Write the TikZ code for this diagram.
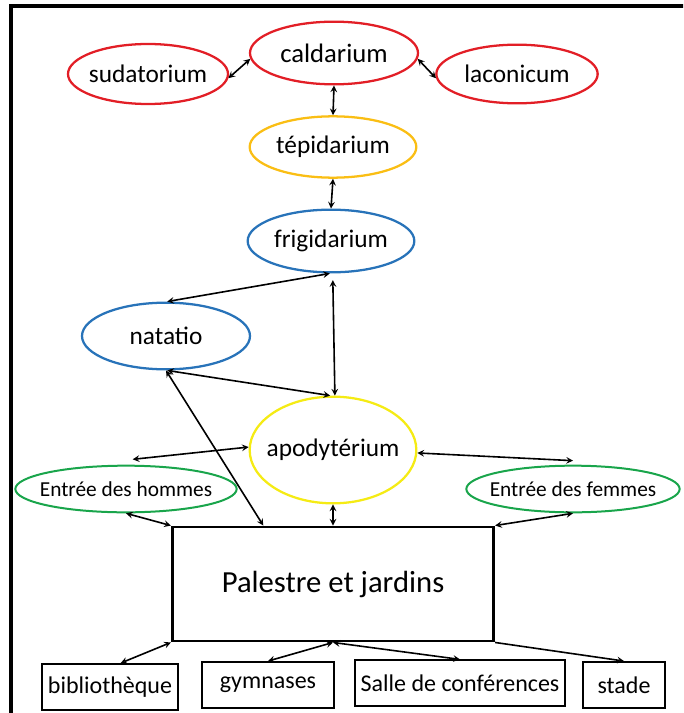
\documentclass[tikz,border=0pt]{standalone}
\usepackage{fontspec}
\setmainfont{Carlito}
\usepackage{xcolor}
\usetikzlibrary{arrows,positioning,shapes,calc}

\definecolor{hotred}{RGB}{226,30,38}
\definecolor{warmorange}{RGB}{250,190,20}
\definecolor{coldblue}{RGB}{40,115,185}
\definecolor{roomyellow}{RGB}{245,235,20}
\definecolor{doorgreen}{RGB}{25,165,75}

\begin{document}
\begin{tikzpicture}[
    x=0.75pt, y=-0.75pt,
    room/.style={ellipse, draw, line width=1.7pt, inner sep=-14pt},
    hot/.style={room, draw=hotred},
    annex/.style={rectangle, draw, line width=1.4pt, inner sep=0pt, minimum height=34.5pt, font=\fontsize{18}{20}\selectfont},
    arrow/.style={<->, line width=1.2pt, >=stealth}
]
    \useasboundingbox (0,0) rectangle (683,713);
    \clip (0,0) rectangle (683,713);
    \draw[line width=2.4pt] (11,6) rectangle (700,730);

    % bains chauds
    \node[hot, minimum width=126pt, minimum height=47pt, font=\fontsize{20}{22}\selectfont] (cal) at (334,53) {caldarium};
    \node[hot, minimum width=120pt, minimum height=45pt, font=\fontsize{19}{21}\selectfont] (sud) at (148,74) {sudatorium};
    \node[hot, minimum width=121pt, minimum height=44pt, font=\fontsize{19}{21}\selectfont] (lac) at (517,74) {laconicum};
    \node[room, draw=warmorange, minimum width=125pt, minimum height=46pt, font=\fontsize{19}{21}\selectfont] (tep) at (333,147) {tépidarium};
    \node[room, draw=coldblue, minimum width=125pt, minimum height=47pt, font=\fontsize{19}{21}\selectfont] (frig) at (331,241) {frigidarium};
    \node[room, draw=coldblue, minimum width=126pt, minimum height=50pt, font=\fontsize{19}{21}\selectfont] (nat) at (166,336) {natatio};
    \node[room, draw=roomyellow, minimum width=125pt, minimum height=80pt, font=\fontsize{19}{21}\selectfont] (apo) at (333,450) {apodytérium};

    % entrees
    \node[room, draw=doorgreen, line width=1.5pt, minimum width=166pt, minimum height=35pt, font=\fontsize{16}{18}\selectfont] (hom) at (126,489) {Entrée des hommes};
    \node[room, draw=doorgreen, line width=1.5pt, minimum width=160pt, minimum height=35pt, font=\fontsize{16}{18}\selectfont] (fem) at (573,489) {Entrée des femmes};

    % palestre et annexes
    \node[rectangle, draw, line width=2.2pt, minimum width=241pt, minimum height=85.5pt, font=\fontsize{23}{25}\selectfont] (pal) at (333,584) {Palestre et jardins};
    \node[annex, minimum width=102pt] (bib) at (110,687) {bibliothèque};
    \node[annex, minimum width=99pt] (gym) at (268,685) {gymnases};
    \node[annex, minimum width=158pt, minimum height=34pt] (sal) at (460,683) {Salle de conférences};
    \node[annex, minimum width=61pt] (sta) at (624,685) {stade};

    \draw[arrow] (sud.-3) -- (cal.184);
    \draw[arrow] (cal.-4) -- (lac.183);
    \draw[arrow] (cal.south) -- (tep.north);
    \draw[arrow] (tep.south) -- (frig.north);
    \draw[arrow] (frig.268) -- (nat.88);
    \draw[arrow, shorten <=5pt] (frig.273) -- (apo.88);
    \draw[arrow] (nat.272) -- (apo.93);
    \draw[arrow] (nat.270) -- (pal.140);
    \draw[arrow] (apo.178) -- ([xshift=5pt,yshift=4pt]hom.north);
    \draw[arrow] (apo.-2) -- ([yshift=3pt]fem.north);
    \draw[arrow] (hom.south) -- (pal.north west);
    \draw[arrow] (fem.south) -- (pal.north east);
    \draw[arrow] (apo.south) -- (pal.north);
    \draw[arrow] (pal.south west) -- ([xshift=8pt]bib.north);
    \draw[arrow] (pal.south) -- (gym.north);
    \draw[arrow] (pal.south) -- (sal.north);
    \draw[arrow, <-] (sta.north) -- (pal.south east);
\end{tikzpicture}
\end{document}
